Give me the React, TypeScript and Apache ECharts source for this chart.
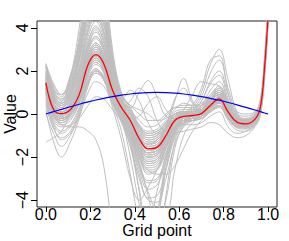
import React, { useEffect, useRef } from "react";
import * as echarts from "echarts";

// grid points (x positions where curves were read)
const gridPoints = [0, 0.035, 0.07, 0.11, 0.15, 0.19, 0.225, 0.26, 0.3, 0.34, 0.38, 0.42, 0.46, 0.5, 0.54, 0.58, 0.62, 0.66, 0.7, 0.74, 0.78, 0.82, 0.86, 0.9, 0.94, 0.965, 0.985, 1.0];

const xTicks = [0, 0.2, 0.4, 0.6, 0.8, 1.0];
const yTicks = [-4, -2, 0, 2, 4];

// mean curve (red)
const meanCurve = [1.45, 0.2, 0.02, 0.2, 0.9, 2.3, 2.76, 2.35, 1.1, 0.3, -0.3, -1.15, -1.62, -1.55, -1.0, -0.3, -0.11, -0.07, 0.02, 0.4, 0.7, 0.1, -0.38, -0.46, -0.25, 0.3, 2.3, 4.6];

// true function (blue)
const trueCurve = [0, 0.11, 0.218, 0.339, 0.454, 0.562, 0.649, 0.729, 0.809, 0.876, 0.93, 0.969, 0.992, 1.0, 0.992, 0.969, 0.93, 0.876, 0.809, 0.729, 0.637, 0.536, 0.426, 0.309, 0.187, 0.11, 0.047, 0];

// sample curves (gray)
const c01 = [2.3, 1.2, 0.8, 1.6, 3.6, 6.5, 7.8, 6.2, 2.8, 0.9, 0.2, -0.6, -1.0, -0.9, -0.5, -0.1, 0.1, 0.1, 0.2, 0.7, 1.0, 0.3, -0.2, -0.3, -0.1, 0.5, 2.6, 5.0];
const c02 = [2.0, 0.9, 0.5, 1.3, 3.0, 5.5, 6.6, 5.2, 2.2, 0.6, 0.0, -0.8, -1.2, -1.1, -0.6, -0.1, 0.0, 0.0, 0.1, 0.6, 0.9, 0.2, -0.3, -0.35, -0.15, 0.4, 2.5, 4.9];
const c03 = [0.8, -0.3, -0.6, -0.5, -0.2, 0.4, 0.8, 0.7, 0.2, -0.3, -0.8, -1.8, -2.4, -2.3, -1.5, -0.6, -0.3, -0.2, -0.1, 0.2, 0.5, -0.1, -0.5, -0.55, -0.35, 0.15, 2.1, 4.4];
const c04 = [1.2, 0.1, -0.2, 0.0, 0.6, 1.8, 2.3, 1.9, 0.8, -0.2, -1.5, -3.5, -5.2, -4.8, -2.6, -0.9, -0.3, -0.1, 0.0, 0.35, 0.6, 0.0, -0.45, -0.5, -0.3, 0.25, 2.2, 4.5];
const c05 = [1.7, 0.5, 0.2, 0.6, 1.4, 3.0, 3.6, 3.0, 1.4, 0.5, 0.3, 1.0, 1.55, 0.8, -0.1, -0.2, -0.1, -0.05, 0.05, 0.45, 0.75, 0.15, -0.35, -0.45, -0.2, 0.35, 2.35, 4.7];
const c06 = [1.3, 0.2, 0.0, 0.2, 0.9, 2.4, 2.9, 2.4, 1.1, 0.2, -0.5, -1.1, -1.4, -1.2, -0.6, 0.6, 1.65, 0.6, 0.1, 0.45, 0.7, 0.1, -0.4, -0.45, -0.25, 0.3, 2.3, 4.6];
const c07 = [1.5, 0.3, 0.1, 0.3, 1.0, 2.5, 3.0, 2.5, 1.2, 0.3, -0.4, -1.3, -1.8, -1.7, -1.1, -0.3, 0.0, 0.3, 1.0, 2.3, 3.0, 1.6, 0.1, -0.3, -0.2, 0.35, 2.35, 4.7];
const c08 = [1.0, 0.0, -0.2, 0.0, 0.7, 2.0, 2.5, 2.1, 0.9, 0.1, -0.5, -1.4, -1.9, -1.8, -1.2, -0.4, -0.1, 0.2, 0.8, 1.9, 2.5, 1.2, 0.0, -0.35, -0.25, 0.3, 2.3, 4.6];
const c09 = [0.2, -1.3, -2.0, -1.3, -0.2, 1.3, 2.0, 1.8, 0.8, 0.0, -0.6, -1.5, -2.0, -1.9, -1.2, -0.4, -0.2, -0.1, 0.0, 0.3, 0.55, 0.0, -0.45, -0.5, -0.3, 0.25, 2.2, 4.5];
const c10 = [1.0, -0.1, -0.5, -0.6, -0.6, -0.8, -1.2, -2.4, -5.5, -8, -8, -8, -7, -5, -2.5, -1.0, -0.4, -0.2, -0.1, 0.3, 0.5, -0.1, -0.5, -0.5, -0.3, 0.2, 2.2, 4.5];
const c11 = [2.35, 1.4, 0.9, 1.8, 3.4, 5.8, 7.0, 5.6, 2.6, 0.8, 0.1, -0.5, -0.8, -0.7, -0.3, 0.0, 0.1, 0.1, 0.2, 0.6, 0.9, 0.3, -0.2, -0.25, -0.05, 0.5, 2.6, 5.0];
const c12 = [-1.3, -1.1, -0.8, 0.0, 1.2, 3.0, 3.6, 3.0, 1.3, 0.2, -0.7, -2.0, -2.8, -2.6, -1.6, -0.6, -0.3, -0.2, -0.1, 0.3, 0.55, 0.0, -0.45, -0.5, -0.3, 0.25, 2.2, 4.5];
const c13 = [1.9, 0.8, 0.5, 0.9, 2.2, 4.2, 5.0, 4.2, 1.8, 0.5, -0.2, -0.9, -1.3, -1.2, -0.7, -0.1, 0.0, 0.0, 0.1, 0.5, 0.8, 0.2, -0.3, -0.4, -0.15, 0.4, 2.45, 4.8];
const c14 = [1.4, 0.2, 0.0, 0.2, 0.9, 2.2, 2.7, 2.3, 0.9, -0.2, -2.0, -4.2, -5.8, -4.6, -2.2, -0.7, -0.2, -0.1, 0.0, 0.4, 0.65, 0.05, -0.4, -0.45, -0.25, 0.3, 2.3, 4.6];
const c15 = [0.5, -0.6, -1.2, -0.9, -0.1, 1.0, 1.5, 1.3, 0.5, -0.2, -0.9, -2.0, -2.7, -2.6, -1.8, -0.8, -0.4, -0.3, -0.2, 0.15, 0.4, -0.15, -0.6, -0.65, -0.45, 0.1, 2.05, 4.3];
const c16 = [2.2, 1.0, 0.6, 1.7, 4.0, 7.0, 8.5, 6.8, 3.0, 1.0, 0.3, -0.5, -0.9, -0.8, -0.4, 0.0, 0.1, 0.1, 0.2, 0.6, 0.9, 0.3, -0.2, -0.3, -0.1, 0.45, 2.55, 5.0];
const c17 = [1.1, 0.0, -0.3, -0.1, 0.6, 1.9, 2.4, 2.0, 0.8, 0.0, -0.7, -1.7, -2.3, -2.2, -1.4, -0.5, -0.2, -0.1, 0.0, 0.35, 0.6, 0.0, -0.45, -0.5, -0.3, 0.25, 2.2, 4.5];
const c18 = [1.3, 0.2, 0.0, 0.3, 1.0, 2.4, 2.9, 2.4, 1.0, 0.1, -0.8, -2.2, -3.8, -5.2, -4.0, -1.6, -0.5, -0.2, 0.0, 0.35, 0.6, 0.0, -0.45, -0.5, -0.3, 0.25, 2.25, 4.55];
const c19 = [1.7, 0.5, 0.2, 0.5, 1.3, 2.8, 3.3, 2.8, 1.3, 0.4, -0.3, -1.0, -1.4, -1.3, -0.8, -0.2, 0.0, 0.2, 0.6, 1.5, 2.0, 0.9, -0.1, -0.35, -0.2, 0.35, 2.35, 4.7];
const c20 = [1.2, 0.1, -0.1, 0.2, 0.9, 2.3, 2.8, 2.4, 1.0, 0.7, 1.1, 0.6, -0.4, -0.9, -0.7, -0.2, -0.05, 0.0, 0.05, 0.4, 0.65, 0.05, -0.4, -0.45, -0.25, 0.3, 2.3, 4.6];
const c21 = [0.0, -0.9, -1.5, -1.0, 0.0, 1.4, 1.9, 1.6, 0.6, -0.3, -1.2, -2.6, -3.5, -3.3, -2.2, -0.9, -0.4, -0.3, -0.2, 0.1, 0.35, -0.2, -0.65, -0.7, -0.5, 0.05, 2.0, 4.3];
const c22 = [2.2, 1.1, 0.9, 1.4, 2.6, 4.6, 5.6, 4.6, 2.0, 0.7, 0.2, -0.3, -0.6, -0.5, -0.1, 0.3, 0.4, 0.4, 0.5, 0.9, 1.2, 0.5, 0.1, 0.0, 0.1, 0.7, 2.8, 5.2];
const c23 = [1.0, -0.1, -0.3, 0.0, 0.8, 2.1, 2.6, 2.2, 0.8, -0.2, -1.0, -2.0, -2.6, -2.8, -2.8, -2.4, -1.6, -0.8, -0.3, 0.1, 0.4, -0.2, -0.6, -0.6, -0.4, 0.15, 2.1, 4.4];
const c24 = [1.6, 0.6, 0.3, 0.8, 1.9, 3.8, 4.5, 3.7, 1.6, 0.5, -0.2, -0.9, -1.3, -1.2, -0.7, -0.1, 0.0, 0.0, 0.1, 0.5, 0.8, 0.2, -0.3, -0.4, -0.2, 0.4, 2.4, 4.7];
const c25 = [0.9, -0.2, -0.5, -0.3, 0.5, 1.7, 2.1, 1.6, 0.3, -1.2, -3.0, -4.0, -3.4, -2.6, -1.6, -0.7, -0.3, -0.2, -0.1, 0.3, 0.5, -0.1, -0.5, -0.55, -0.35, 0.2, 2.15, 4.45];
const c26 = [1.8, 0.7, 0.4, 0.7, 1.7, 3.4, 4.0, 3.4, 1.5, 0.4, -0.3, -1.1, -1.6, -1.5, -0.9, -0.2, 0.0, 0.1, 0.4, 1.1, 1.5, 0.6, -0.2, -0.35, -0.2, 0.35, 2.35, 4.7];
const c27 = [1.4, 0.4, 0.1, 0.4, 1.2, 2.9, 3.5, 2.9, 1.2, 0.3, -0.4, -1.3, -1.8, -1.7, -1.0, -0.3, -0.1, 0.0, 0.1, 0.45, 0.75, 0.15, -0.35, -0.45, -0.25, 0.3, 2.3, 4.6];
const c28 = [1.5, 0.4, 0.1, 0.4, 1.1, 2.6, 3.1, 2.6, 1.0, 0.0, -1.3, -3.6, -6.5, -6.5, -3.8, -1.3, -0.4, -0.1, 0.0, 0.4, 0.65, 0.05, -0.4, -0.45, -0.25, 0.3, 2.3, 4.6];
const c29 = [0.6, -0.5, -0.9, -0.6, 0.2, 1.5, 2.0, 1.7, 0.6, -0.1, -0.8, -1.8, -2.3, -2.2, -1.4, -0.6, -0.3, -0.2, -0.1, 0.25, 0.5, -0.05, -0.5, -0.55, -0.35, 0.2, 2.15, 4.45];
const c30 = [2.0, 1.0, 0.7, 1.1, 2.6, 5.0, 6.0, 4.9, 2.1, 0.6, 0.0, -0.7, -1.1, -1.0, -0.5, 0.0, 0.1, 0.1, 0.2, 0.6, 0.9, 0.3, -0.2, -0.3, -0.1, 0.45, 2.5, 4.9];
const c31 = [1.2, 0.1, -0.2, 0.1, 0.8, 2.1, 2.6, 2.2, 0.9, 0.0, -0.7, -1.6, -2.2, -2.1, -1.4, -0.9, -0.8, -0.7, -0.6, -0.4, -0.5, -0.9, -1.1, -1.0, -0.6, -0.05, 1.8, 4.2];
const c32 = [1.3, 0.2, 0.0, 0.3, 1.0, 2.4, 2.9, 2.4, 1.0, 0.1, -0.6, -1.5, -2.0, -1.9, -1.2, -0.6, -0.5, -0.5, -0.4, -0.1, 0.1, -0.6, -0.9, -0.8, -0.5, 0.05, 1.95, 4.3];
const c33 = [1.5, 0.4, 0.1, 0.4, 1.2, 2.7, 3.2, 2.7, 1.2, 0.3, -0.2, -0.1, 0.5, 0.8, 0.2, -0.2, -0.1, 0.0, 0.1, 0.5, 0.8, 0.2, -0.3, -0.4, -0.2, 0.35, 2.35, 4.7];
const c34 = [1.0, 0.0, -0.3, 0.0, 0.7, 2.0, 2.5, 2.1, 0.8, 0.0, -0.9, -2.4, -3.6, -4.5, -4.6, -2.6, -1.0, -0.4, -0.1, 0.3, 0.55, -0.05, -0.5, -0.5, -0.3, 0.25, 2.2, 4.5];
const c35 = [1.6, 0.6, 0.3, 0.9, 2.4, 4.8, 5.8, 4.5, 1.7, 0.4, -0.3, -1.0, -1.5, -1.4, -0.8, -0.2, 0.0, 0.1, 0.3, 0.8, 1.1, 0.3, -0.3, -0.4, -0.2, 0.4, 2.4, 4.7];
const c36 = [1.9, 0.7, 0.3, 0.8, 2.0, 4.0, 4.9, 3.9, 1.6, 0.5, 0.0, -0.6, -0.9, -0.8, -0.4, 0.1, 0.2, 0.2, 0.3, 0.7, 1.0, 0.3, -0.2, -0.3, -0.1, 0.45, 2.5, 4.9];
const c37 = [1.0, 0.0, -0.4, -0.2, 0.5, 1.6, 2.1, 1.7, 0.6, -0.3, -1.3, -2.8, -3.9, -3.8, -2.6, -1.1, -0.5, -0.3, -0.1, 0.3, 0.5, -0.1, -0.55, -0.55, -0.35, 0.2, 2.15, 4.45];
const c38 = [2.1, 1.0, 0.6, 1.5, 3.3, 6.0, 7.2, 5.7, 2.4, 0.7, 0.0, -0.7, -1.1, -1.0, -0.6, -0.1, 0.0, 0.1, 0.2, 0.7, 1.0, 0.3, -0.25, -0.3, -0.1, 0.45, 2.5, 4.9];
const c39 = [1.4, 0.3, 0.0, 0.3, 1.1, 2.6, 3.2, 2.6, 1.0, 0.1, -0.7, -1.7, -2.2, -2.1, -1.3, -0.5, -0.2, -0.1, 0.1, 0.6, 1.0, 0.3, -0.3, -0.4, -0.2, 0.3, 2.3, 4.6];
const c40 = [1.7, 0.6, 0.3, 0.7, 1.8, 3.6, 4.3, 3.5, 1.4, 0.3, -0.5, -1.4, -1.9, -1.8, -1.0, -0.3, -0.1, 0.0, 0.2, 0.7, 1.1, 0.4, -0.2, -0.35, -0.2, 0.35, 2.35, 4.7];
const c41 = [0.4, -0.7, -1.1, -0.8, 0.1, 1.4, 1.9, 1.6, 0.7, 0.1, -0.5, -1.3, -1.8, -1.7, -1.1, -0.5, -0.3, -0.3, -0.2, 0.1, 0.3, -0.3, -0.75, -0.8, -0.55, 0.0, 1.95, 4.3];
const c42 = [2.3, 1.3, 0.9, 1.7, 3.2, 5.2, 6.2, 5.0, 2.3, 0.8, 0.4, 0.2, 0.0, -0.3, -0.2, 0.2, 0.5, 0.4, 0.4, 0.8, 1.1, 0.4, -0.1, -0.2, 0.0, 0.55, 2.6, 5.0];
const c43 = [1.2, 0.1, -0.2, 0.1, 0.9, 2.3, 2.9, 2.4, 0.9, -0.1, -1.0, -2.3, -3.1, -3.0, -2.0, -0.8, -0.3, -0.1, 0.0, 0.4, 0.7, 0.1, -0.4, -0.45, -0.25, 0.3, 2.3, 4.6];
const c44 = [1.3, 0.2, -0.1, 0.2, 0.9, 2.2, 2.8, 2.3, 1.0, 0.2, -0.5, -1.3, -1.7, -1.6, -1.0, -0.3, 0.0, 0.4, 1.2, 2.5, 2.7, 1.0, -0.1, -0.3, -0.2, 0.35, 2.35, 4.7];
const c45 = [1.5, 0.4, 0.1, 0.5, 1.5, 3.3, 4.1, 3.3, 1.3, 0.2, -0.6, -1.6, -2.1, -2.0, -1.2, -0.4, -0.1, 0.0, 0.1, 0.5, 0.8, 0.2, -0.3, -0.4, -0.2, 0.3, 2.3, 4.6];
const c46 = [1.1, 0.0, -0.3, 0.0, 0.7, 2.0, 2.6, 2.0, 0.5, -0.8, -2.8, -4.8, -5.0, -3.6, -1.9, -0.8, -0.4, -0.2, 0.0, 0.35, 0.6, 0.0, -0.45, -0.5, -0.3, 0.25, 2.2, 4.5];
const c47 = [1.8, 0.8, 0.5, 1.0, 2.1, 3.9, 4.7, 3.8, 1.6, 0.5, -0.1, -0.8, -1.2, -1.1, -0.6, 0.0, 0.1, 0.1, 0.3, 0.8, 1.2, 0.5, -0.15, -0.25, -0.05, 0.5, 2.55, 4.9];
const c48 = [0.9, -0.1, -0.4, -0.1, 0.7, 1.9, 2.4, 2.0, 0.8, 0.0, -0.8, -1.9, -2.5, -2.4, -1.6, -0.7, -0.4, -0.3, -0.2, 0.2, 0.4, -0.2, -0.6, -0.65, -0.4, 0.15, 2.1, 4.4];
const c49 = [1.4, 0.3, 0.0, 0.3, 1.0, 2.5, 3.1, 2.5, 1.0, 0.1, -0.6, -1.4, -1.8, -1.7, -1.0, -0.3, 0.2, 0.9, 1.5, 1.4, 1.3, 0.4, -0.2, -0.35, -0.2, 0.35, 2.35, 4.7];
const c50 = [2.0, 0.9, 0.5, 1.2, 2.8, 5.0, 5.9, 4.6, 1.9, 0.5, -0.2, -1.0, -1.4, -1.3, -0.7, -0.1, 0.0, 0.1, 0.2, 0.6, 0.9, 0.3, -0.25, -0.3, -0.15, 0.4, 2.45, 4.8];
const c51 = [1.6, 0.5, 0.2, 0.6, 1.6, 3.2, 3.9, 3.1, 1.2, 0.2, -0.5, -1.5, -2.0, -1.9, -1.1, -0.4, -0.2, -0.1, 0.1, 0.5, 0.8, 0.2, -0.35, -0.45, -0.25, 0.3, 2.3, 4.6];
const c52 = [1.3, 0.2, -0.1, 0.2, 1.0, 2.4, 3.0, 2.5, 1.0, 0.3, 0.6, 1.2, 0.8, -0.3, -0.8, -0.4, -0.1, 0.0, 0.1, 0.45, 0.7, 0.1, -0.4, -0.45, -0.25, 0.3, 2.3, 4.6];
const c53 = [1.5, 0.4, 0.1, 0.4, 1.2, 2.7, 3.3, 2.7, 1.1, 0.2, -0.6, -1.4, -1.8, -1.5, -0.6, 0.7, 1.2, 0.5, 0.2, 0.5, 0.8, 0.2, -0.3, -0.4, -0.2, 0.35, 2.35, 4.7];
const c54 = [0.7, -0.4, -0.8, -0.5, 0.3, 1.5, 2.0, 1.6, 0.5, -0.4, -1.5, -3.0, -4.0, -4.1, -3.0, -1.4, -0.6, -0.3, -0.1, 0.3, 0.5, -0.1, -0.55, -0.6, -0.4, 0.15, 2.1, 4.4];
const c55 = [1.9, 0.8, 0.4, 1.0, 2.5, 4.4, 5.3, 4.2, 1.7, 0.4, -0.3, -1.1, -1.5, -1.4, -0.8, -0.2, 0.0, 0.0, 0.2, 0.7, 1.0, 0.3, -0.25, -0.35, -0.15, 0.4, 2.45, 4.8];
const c56 = [1.2, 0.1, -0.2, 0.1, 0.8, 2.2, 2.7, 2.2, 0.8, -0.1, -1.1, -2.4, -3.2, -3.1, -2.0, -0.7, -0.2, 0.1, 0.6, 1.4, 1.8, 0.7, -0.2, -0.4, -0.25, 0.3, 2.3, 4.6];
const c57 = [2.2, 1.1, 0.7, 1.4, 3.0, 5.5, 6.8, 5.4, 2.3, 0.7, 0.1, -0.6, -1.0, -0.9, -0.4, 0.0, 0.1, 0.1, 0.3, 0.7, 1.0, 0.3, -0.2, -0.3, -0.1, 0.5, 2.6, 5.0];
const c58 = [1.1, 0.1, -0.2, 0.1, 0.8, 2.1, 2.7, 2.2, 0.8, -0.1, -0.9, -2.0, -2.6, -2.5, -1.6, -0.6, -0.3, -0.2, -0.1, 0.3, 0.55, -0.05, -0.5, -0.55, -0.35, 0.2, 2.2, 4.5];
const c59 = [1.8, 0.7, 0.4, 1.1, 2.9, 5.6, 6.9, 5.6, 2.5, 0.9, 0.4, 0.0, -0.3, -0.3, 0.0, 0.3, 0.3, 0.3, 0.4, 0.9, 1.3, 0.6, 0.0, -0.1, 0.05, 0.6, 2.7, 5.1];
const c60 = [1.5, 0.4, 0.1, 0.5, 1.4, 3.1, 3.8, 3.1, 1.2, 0.3, -0.4, -1.2, -1.6, -1.5, -0.8, -0.2, -0.1, 0.0, 0.2, 0.6, 0.9, 0.2, -0.3, -0.4, -0.2, 0.35, 2.35, 4.7];

const sampleCurves = [
  c01, c02, c03, c04, c05, c06, c07, c08, c09, c10, c11, c12, c13, c14, c15, c16, c17, c18, c19, c20,
  c21, c22, c23, c24, c25, c26, c27, c28, c29, c30, c31, c32, c33, c34, c35, c36, c37, c38, c39, c40,
  c41, c42, c43, c44, c45, c46, c47, c48, c49, c50, c51, c52, c53, c54, c55, c56, c57, c58, c59, c60,
];

const FONT = "Liberation Sans, Arial, Helvetica, sans-serif";
const minus = (v: number) => (v < 0 ? "\u2212" + Math.abs(v) : String(v));

export default function App() {
  const ref = useRef<HTMLDivElement>(null);
  useEffect(() => {
    if (!ref.current) return;
    const chart = echarts.init(ref.current, undefined, { renderer: "svg" });
    const toPairs = (vals: number[]) => gridPoints.map((x, i) => [x, vals[i]]);
    const series: any[] = sampleCurves.map((c) => ({
      type: "line",
      data: toPairs(c),
      showSymbol: false,
      smooth: 0.4,
      silent: true,
      lineStyle: { color: "#BEBEBE", width: 1 },
      z: 1,
    }));
    series.push({
      type: "line",
      data: toPairs(meanCurve),
      showSymbol: false,
      smooth: 0.4,
      silent: true,
      lineStyle: { color: "#FF0000", width: 1.3 },
      z: 3,
    });
    series.push({
      type: "line",
      data: toPairs(trueCurve),
      showSymbol: false,
      smooth: 0.4,
      silent: true,
      lineStyle: { color: "#0000FF", width: 1.2 },
      z: 4,
    });
    chart.setOption({
      animation: false,
      backgroundColor: "#ffffff",
      grid: {
        left: 37,
        right: 12,
        top: 21,
        bottom: 34,
        containLabel: false,
        outerBoundsMode: "none",
        show: true,
        borderColor: "#222",
        borderWidth: 1,
        backgroundColor: "transparent",
      },
      xAxis: {
        type: "value",
        min: -0.04,
        max: 1.04,
        name: "Grid point",
        nameLocation: "middle",
        nameGap: 17,
        nameMoveOverlap: false,
        nameTextStyle: { fontFamily: FONT, fontSize: 16, lineHeight: 13, color: "#000" },
        axisLine: { show: false, onZero: false },
        splitLine: { show: false },
        axisTick: { show: true, length: 5, customValues: xTicks, lineStyle: { color: "#000" } },
        axisLabel: {
          customValues: xTicks,
          formatter: (v: number) => v.toFixed(1),
          fontFamily: FONT,
          fontSize: 16,
          lineHeight: 13,
          color: "#000",
          margin: 1,
        },
      },
      yAxis: {
        type: "value",
        min: -4.32,
        max: 4.32,
        name: "Value",
        nameLocation: "middle",
        nameGap: 19,
        nameMoveOverlap: false,
        nameRotate: 90,
        nameTextStyle: { fontFamily: FONT, fontSize: 16, color: "#000" },
        axisLine: { show: false, onZero: false },
        splitLine: { show: false },
        axisTick: { show: true, length: 6, customValues: yTicks, lineStyle: { color: "#000" } },
        axisLabel: {
          customValues: yTicks,
          formatter: minus,
          rotate: 90,
          fontFamily: FONT,
          fontSize: 16,
          color: "#000",
          margin: 7,
        },
      },
      series,
    });
    return () => chart.dispose();
  }, []);
  return (
    <div
      ref={ref}
      style={{ position: "fixed", left: 0, top: 0, width: 289, height: 241, background: "#fff" }}
    />
  );
}
